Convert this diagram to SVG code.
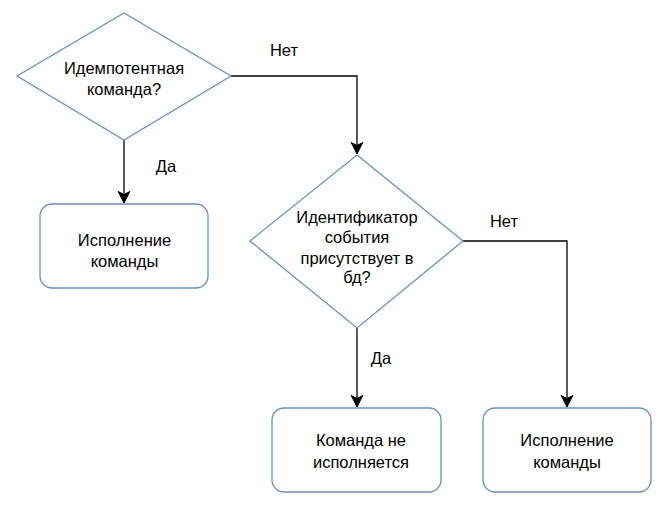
<svg xmlns="http://www.w3.org/2000/svg" width="671" height="516" viewBox="0 0 671 516">
<defs>
<style>
.shape{fill:#ffffff;stroke:#6c8ebf;stroke-width:1.3}
.edge{fill:none;stroke:#000000;stroke-width:1.3}
text{font-family:"Liberation Sans",Arial,sans-serif;font-size:16.5px;fill:#000000;text-anchor:middle;dominant-baseline:central}
</style>
<marker id="arrow" markerUnits="userSpaceOnUse" markerWidth="14" markerHeight="14" viewBox="-12 -7 14 14" refX="0" refY="0" orient="auto">
<path d="M0,0 L-11.5,-5.8 L-8.5,0 L-11.5,5.8 Z" fill="#000000" stroke="#000000" stroke-width="1"/>
</marker>
</defs>
<rect width="671" height="516" fill="#ffffff"/>
<g id="connectors">
<path class="edge" d="M124,140 L124,203" marker-end="url(#arrow)"/>
<path class="edge" d="M231,76 L357,76 L357,154" marker-end="url(#arrow)"/>
<path class="edge" d="M357,328 L357,407" marker-end="url(#arrow)"/>
<path class="edge" d="M463,241 L567,241 L567,407" marker-end="url(#arrow)"/>
<text x="166" y="166">Да</text>
<text x="284" y="50">Нет</text>
<text x="381" y="358">Да</text>
<text x="504" y="221">Нет</text>
</g>
<g id="decision1">
<polygon class="shape" points="124,13 231,76 124,140 17,76"/>
<text x="124" y="68">Идемпотентная</text>
<text x="124" y="89">команда?</text>
</g>
<g id="execute1">
<rect class="shape" x="40" y="204" width="168" height="84" rx="12" ry="12"/>
<text x="124.5" y="240">Исполнение</text>
<text x="124.5" y="260.5">команды</text>
</g>
<g id="decision2">
<polygon class="shape" points="357,155 463,241 357,328 250,241"/>
<text x="357" y="217">Идентификатор</text>
<text x="357" y="237">события</text>
<text x="357" y="257.5">присутствует в</text>
<text x="357" y="277">бд?</text>
</g>
<g id="notExecuted">
<rect class="shape" x="272" y="408" width="169" height="84" rx="12" ry="12"/>
<text x="361" y="440">Команда не</text>
<text x="361" y="461.5">исполняется</text>
</g>
<g id="execute2">
<rect class="shape" x="483" y="408" width="168" height="84" rx="12" ry="12"/>
<text x="567" y="440">Исполнение</text>
<text x="567" y="461.5">команды</text>
</g>
</svg>
